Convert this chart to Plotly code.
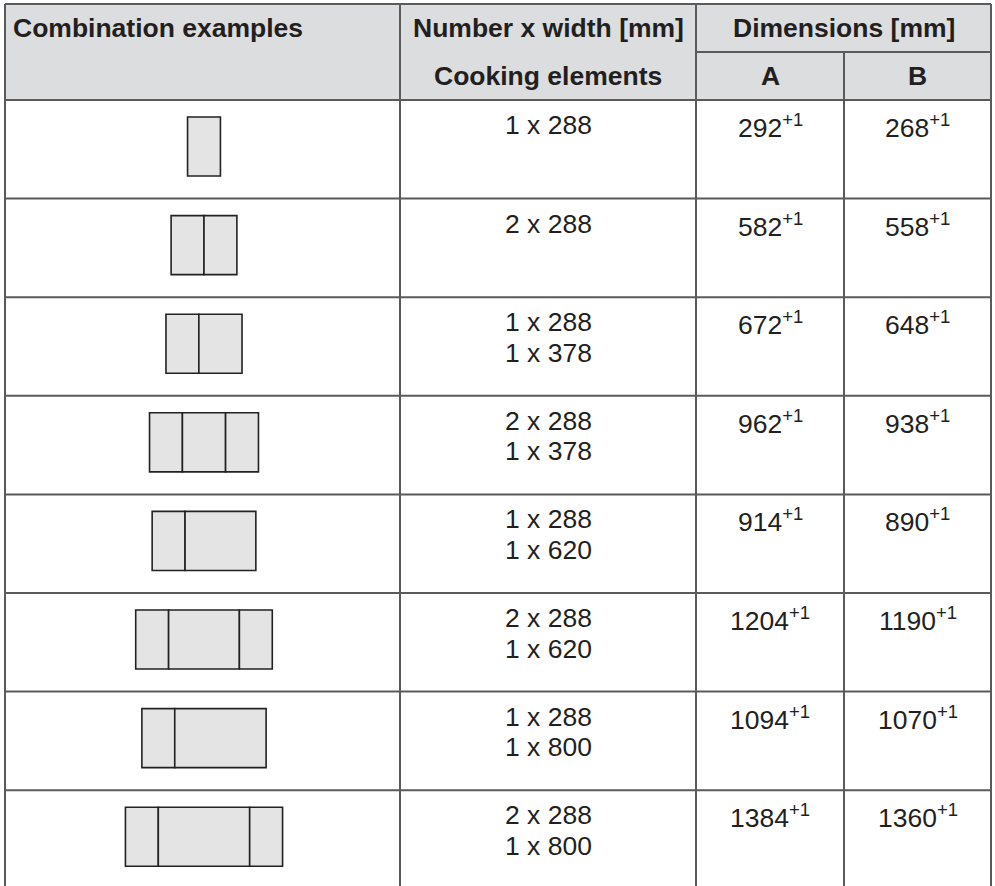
import plotly.graph_objects as go

# data
headerLeft = 'Combination examples'
headerNumber = ['Number x width [mm]', 'Cooking elements']
headerDims = 'Dimensions [mm]'
dimLabels = ['A', 'B']

# cooking element widths [mm], left to right, for each combination
layouts = [[288], [288, 288], [288, 378], [288, 378, 288], [288, 620], [288, 620, 288], [288, 800],
           [288, 800, 288]]
dimA = [292, 582, 672, 962, 914, 1204, 1094, 1384]
dimB = [268, 558, 648, 938, 890, 1190, 1070, 1360]
tolerance = '+1'

# styling / geometry
W, H = 995, 886
colEdges = [5, 400, 696, 844, 991]
tableTop = 4
headerMid = 52
headerBottom = 100
rowHeight = 98.6
mmToPx = 0.1142
elementDepth = 517
diagramCenter = 204
diagramTop = 17
headerFill = '#dcdddf'
elementFill = '#e4e4e4'
gridColor = '#5a5a5a'
textColor = '#231f20'
fontFamily = 'Liberation Sans, Arial, sans-serif'
fontSize = 26.5


def line(x0, y0, x1, y1, width=2, color=gridColor):
    return dict(type='line', xref='x', yref='y', x0=x0, y0=y0, x1=x1, y1=y1, line=dict(color=color, width=width),
                layer='above')


def label(text, x, y, xanchor='center', size=fontSize):
    return dict(text=text, x=x, y=y, xref='x', yref='y', xanchor=xanchor, yanchor='middle', showarrow=False,
                font=dict(family=fontFamily, size=size, color=textColor))


def countText(widths):
    counts = []
    for w in widths:
        if w not in [c[1] for c in counts]:
            counts.append([widths.count(w), w])
    return ['%d x %d' % (n, w) for n, w in counts]


shapes = []
annotations = []

# header background
shapes.append(dict(type='rect', xref='x', yref='y', x0=colEdges[0], x1=colEdges[-1], y0=tableTop, y1=headerBottom,
                   fillcolor=headerFill, line=dict(width=0), layer='below'))

rowTops = [headerBottom + rowHeight * i for i in range(len(layouts))]
bottom = H + 5

# grid
shapes.append(line(colEdges[0], tableTop, colEdges[-1], tableTop))
shapes.append(line(colEdges[2], headerMid, colEdges[-1], headerMid))
shapes.append(line(colEdges[0], headerBottom, colEdges[-1], headerBottom))
for top in rowTops[1:]:
    shapes.append(line(colEdges[0], top, colEdges[-1], top))
for i, x in enumerate(colEdges):
    y0 = headerMid if i == 3 else tableTop
    shapes.append(line(x, y0, x, bottom))

# header text
annotations.append(label('<b>%s</b>' % headerLeft, 11, 28, xanchor='left'))
annotations.append(label('<b>%s</b>' % headerNumber[0], (colEdges[1] + colEdges[2]) / 2, 28))
annotations.append(label('<b>%s</b>' % headerNumber[1], (colEdges[1] + colEdges[2]) / 2, 76))
annotations.append(label('<b>%s</b>' % headerDims, (colEdges[2] + colEdges[4]) / 2, 28))
for i, d in enumerate(dimLabels):
    annotations.append(label('<b>%s</b>' % d, (colEdges[2 + i] + colEdges[3 + i]) / 2, 76))

# rows
for top, widths, a, b in zip(rowTops, layouts, dimA, dimB):
    total = sum(widths) * mmToPx
    x = diagramCenter - total / 2
    for w in widths:
        shapes.append(dict(type='rect', xref='x', yref='y', x0=x, x1=x + w * mmToPx, y0=top + diagramTop,
                           y1=top + diagramTop + elementDepth * mmToPx, fillcolor=elementFill,
                           line=dict(color='#222222', width=1.6), layer='above'))
        x += w * mmToPx
    for j, t in enumerate(countText(widths)):
        annotations.append(label(t, (colEdges[1] + colEdges[2]) / 2, top + 25 + 30.5 * j))
    for k, v in enumerate([a, b]):
        annotations.append(label('%d<sup>%s</sup>' % (v, tolerance), (colEdges[2 + k] + colEdges[3 + k]) / 2,
                                 top + 26))

fig = go.Figure()
fig.add_trace(go.Scatter(x=[0, W], y=[0, H], mode='markers', marker=dict(opacity=0), hoverinfo='skip',
                         showlegend=False))
fig.update_layout(width=W, height=H, margin=dict(t=0, b=0, l=0, r=0, pad=0), paper_bgcolor='white',
                  plot_bgcolor='white', shapes=shapes, annotations=annotations,
                  xaxis=dict(range=[0, W], visible=False, fixedrange=True),
                  yaxis=dict(range=[H, 0], visible=False, fixedrange=True))
fig.write_html('out.html', config=dict(displayModeBar=False),
               post_script="document.body.style.margin='0';document.body.style.overflow='hidden';")
